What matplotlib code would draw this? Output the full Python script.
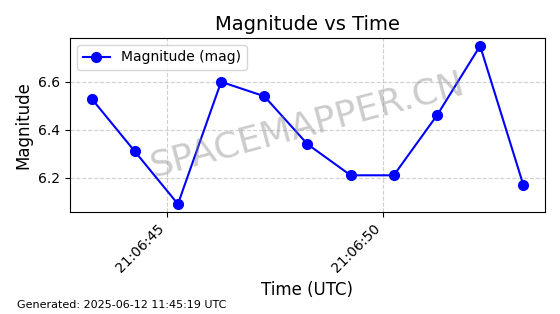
import matplotlib
matplotlib.use("Agg")
import matplotlib.pyplot as plt
import matplotlib.dates as mdates
import pandas as pd

# Observation times (UTC) and magnitudes
times = pd.to_datetime([
    "2025-06-12 21:06:43.25", "2025-06-12 21:06:44.25", "2025-06-12 21:06:45.25",
    "2025-06-12 21:06:46.25", "2025-06-12 21:06:47.25", "2025-06-12 21:06:48.25",
    "2025-06-12 21:06:49.25", "2025-06-12 21:06:50.25", "2025-06-12 21:06:51.25",
    "2025-06-12 21:06:52.25", "2025-06-12 21:06:53.25",
])
magnitudes = [6.53, 6.31, 6.09, 6.60, 6.54, 6.34, 6.21, 6.21, 6.46, 6.75, 6.17]

TITLE = "Magnitude vs Time"
FOOTER = "Generated: 2025-06-12 11:45:19 UTC"
WATERMARK = "SPACEMAPPER.CN"

fig, ax = plt.subplots(figsize=(5.6, 3.14), dpi=100)
ax.plot(times, magnitudes, marker="o", color="b", markersize=7,
        linewidth=1.5, label="Magnitude (mag)")

ax.set_title(TITLE, fontsize=14)
ax.set_xlabel("Time (UTC)", fontsize=12)
ax.set_ylabel("Magnitude", fontsize=12)
ax.grid(True, linestyle="--", alpha=0.6)
ax.legend(loc="upper left")

ax.xaxis.set_major_locator(mdates.SecondLocator(bysecond=[45, 50]))
ax.xaxis.set_major_formatter(mdates.DateFormatter("%H:%M:%S"))
plt.setp(ax.get_xticklabels(), rotation=45, ha="right")

ax.text(0.5, 0.5, WATERMARK, transform=ax.transAxes, fontsize=26,
        color="gray", alpha=0.4, rotation=15, ha="center", va="center")

fig.text(0.03, 0.02, FOOTER, fontsize=8)
fig.subplots_adjust(left=0.125, right=0.973, top=0.879, bottom=0.325)
fig.savefig("out.png", dpi=100)
